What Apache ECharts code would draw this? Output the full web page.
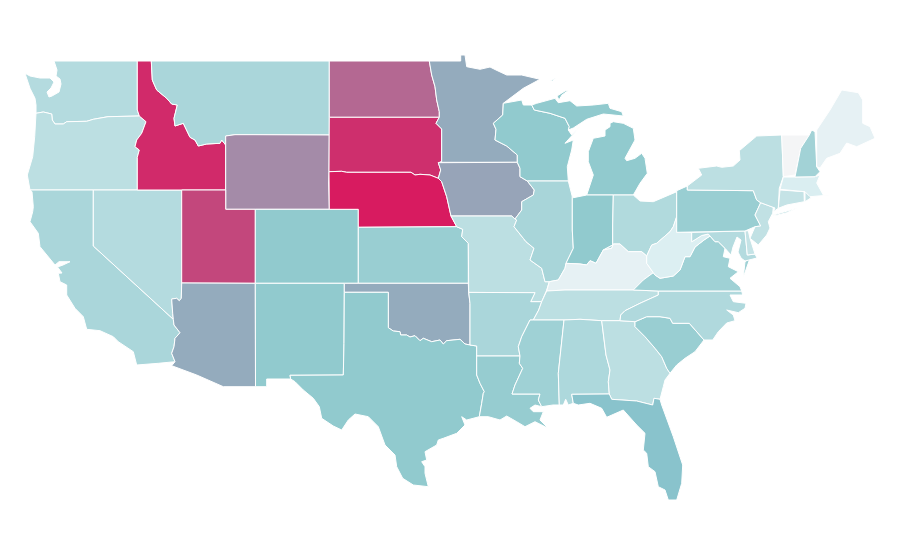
<!DOCTYPE html>
<html>
<head>
<meta charset="utf-8">
<style>html,body{margin:0;padding:0;background:#fff}#c{width:900px;height:560px}</style>
<script src="https://cdn.jsdelivr.net/npm/echarts@6/dist/echarts.min.js"></script>
</head>
<body>
<div id="c"></div>
<script>
// Values (relative 0-100 scale)
const stateNames = ['Washington','Oregon','California','Nevada','Idaho','Montana','Wyoming','Utah','Arizona','Colorado','New Mexico','North Dakota','South Dakota','Nebraska','Kansas','Oklahoma','Texas','Minnesota','Iowa','Missouri','Arkansas','Louisiana','Wisconsin','Illinois','Michigan','Indiana','Ohio','Kentucky','Tennessee','Mississippi','Alabama','Georgia','Florida','South Carolina','North Carolina','Virginia','West Virginia','Maryland','Delaware','Pennsylvania','New Jersey','New York','Connecticut','Rhode Island','Massachusetts','Vermont','New Hampshire','Maine'];
const stateValues = [28,24.5,32,28,95.5,32,66.7,87,57,40,40,77,94,100,37.5,57,40,57,59,24.5,32,38.5,40,32.5,40,40,29.5,6,24.5,35.5,31,24.5,50,37.5,30,35.5,10,28,20,37.5,22,24.5,20,20,11,0,34.5,6];
const colorStops = ['#f4f5f6','#dceff2','#c5e3e6','#b0d9dd','#91cace','#89c3cc','#99a1b6','#a980a1','#b85e8b','#c83d76','#d81b60'];

// State outlines for the custom map (map units: x, y downward)
const outlines = {
'Washington':['54,61 137.3,61 137.3,110 139.3,116 108,116.7 93.3,119.3 86.7,121.3 66.7,121.7 63.3,124 55,124 52.3,120 51.7,114 43.3,112 36,113.3 36,105 35,98.3 30,88.3 25,73.3 30,76 40,78 50,78 54,82 51,88 47,92 49,97 52,96 59,92 61,84 60,79 56,76 57,70'],
'Oregon':['36,113.3 43.3,112 51.7,114 52.3,120 55,124 63.3,124 66.7,121.7 86.7,121.3 93.3,119.3 108,116.7 139.3,116 146,121.7 141.7,133.3 136.7,140 135,146.7 139.3,150 137.3,157.3 137.3,190 30,190 27.3,175 32.7,156.7 34.7,136.7'],
'California':['30,190 93.3,190 93.3,246 173.3,319.3 174,325 180,332.7 175,338.3 174,346.7 171.7,353.3 175,361.7 158.3,363.3 136.7,365 133.3,351.7 118.3,341.7 113.3,336.7 100,330.7 86.7,329.3 83.3,316.7 75,308.3 66.7,295 66.7,285 60,281.7 58.3,273.3 62,273 57.5,267 63,265 70,261.7 59,261.7 55,265 40,246.7 38.3,233.3 30,221.7 32.7,211.7 33.3,206.7 32,191.7'],
'Nevada':['93.3,190 181.7,190 181.7,283 181.3,298.3 179.3,300.7 176.7,298.3 171.7,299 172.7,313.3 173.3,319.3 93.3,246'],
'Idaho':['137.3,61 151.3,61 152.3,80 156.7,90 166.7,98.3 171.7,104 177.3,105 174,118.3 175,126 183.3,123.3 190,137.3 195,140 198.3,146 206.7,144 220,143.3 221.7,140 225.7,145 225.7,190 137.3,190 137.3,157.3 139.3,150 135,146.7 136.7,140 141.7,133.3 146,121.7 139.3,116 137.3,110'],
'Montana':['151.3,61 329.3,61 329.3,135 253,134.7 235,134.7 225.7,136 225.7,145 221.7,140 220,143.3 206.7,144 198.3,146 195,140 190,137.3 183.3,123.3 175,126 174,118.3 177.3,105 171.7,104 166.7,98.3 156.7,90 152.3,80'],
'Wyoming':['225.7,136 235,134.7 253,134.7 329.3,135 329,171.7 328.7,183 329.3,209.3 255.3,209.3 225.7,209.3'],
'Utah':['181.7,190 225.7,190 225.7,209.3 255.3,209.3 255.3,283.3 181.7,283'],
'Arizona':['181.7,283 255.3,283.3 255.5,386.7 223.3,386.7 196.7,375 171.7,365.7 175,361.7 171.7,353.3 174,346.7 175,338.3 180,332.7 174,325 173.3,319.3 172.7,313.3 171.7,299 176.7,298.3 179.3,300.7 181.3,298.3'],
'Colorado':['255.3,209.3 358.3,209.3 358.3,227.3 358.3,283.3 255.3,283.3'],
'New Mexico':['255.3,283.3 344.3,283.3 344.3,292.3 344,343.3 343.3,375 290,375.3 290.7,379 266.7,379 266.7,386.7 255.5,386.7'],
'North Dakota':['329.3,61 429.3,61 431.7,75 435,86.7 436.7,100 439.3,111.7 439.3,117.3 329.3,117.3'],
'South Dakota':['329.3,117.3 439.3,117.3 436,123.3 441.7,129 441.7,161.7 438.3,162.7 440.7,170 438.3,178.3 430,175 420,174.3 415,175 411,172.3 346.7,172.3 341.7,171.3 329,171.7'],
'Nebraska':['329,171.7 341.7,171.3 346.7,172.3 411,172.3 415,175 420,174.3 430,175 438.3,178.3 441.7,181.7 446.7,196.7 451,216 456.7,226.7 358.3,227.3 358.3,209.3 329.3,209.3'],
'Kansas':['358.3,227.3 456.7,226.7 462.7,229.3 461.7,236.7 468.3,243.3 468.3,283.3 358.3,283.3'],
'Oklahoma':['344.3,283.3 468.3,283.3 468.7,292.4 470,303.3 470,345 465,344 460,339.3 446.7,340.7 443.3,344 440,340 431.7,341.7 423.3,338.3 420,340.7 415,335.7 410,337 406.7,335 400.7,335 400,331.7 393.3,331 388.3,327.7 388.3,292.3 344.3,292.3'],
'Texas':['344.3,292.3 388.3,292.3 388.3,327.7 393.3,331 400,331.7 400.7,335 406.7,335 410,337 415,335.7 420,340.7 423.3,338.3 431.7,341.7 440,340 443.3,344 446.7,340.7 460,339.3 465,344 470,345 476.7,346 476.7,356 476.7,375 480,383.3 484.3,391.7 483.3,393.3 481.7,403.3 479.3,416.7 466.7,420 461.7,416.7 465,425 456.7,433.3 443.3,438.3 438.3,440 436.7,445 425,451.7 426.7,460 421.7,461.7 425,466.7 425,473.3 428.3,486.7 413.3,485 402.7,478.3 396.7,466.7 395,455 385,445 378.3,426.7 368.3,416.7 355,414 348.3,420 341.7,430 333.3,426 321.7,418.3 319.3,406.7 313.3,398.3 303.3,390 295,381.7 290.7,379 290,375.3 343.3,375 344,343.3'],
'Minnesota':['429.3,61 460.7,61 460.7,55 465,55 466.7,66.7 480,69.3 490,67 496,70 506.7,75 521.7,75 540,79.3 523.3,88.3 503.3,103.3 502.7,115 493.3,123.3 496,129.3 495,140 506.7,146 517.3,155 517.3,162.3 440,162.3 441.7,161.7 441.7,129 436,123.3 439.3,117.3 439.3,111.7 436.7,100 435,86.7 431.7,75'],
'Iowa':['438.3,162.7 517.3,162.3 520,168.3 520,176.7 527.3,181 534.3,190 533.3,195 521.7,201.7 521.7,210 515,219 511.7,216 451,216 446.7,196.7 441.7,181.7 438.3,178.3 440.7,170'],
'Missouri':['451,216 511.7,216 515,219 516.7,220 514,226.7 523.3,238.3 526,241.7 534,248.3 530,260 541.7,268.3 545,281.7 549.3,281.7 546.7,290 541.7,301.7 530.7,301.7 535,292.7 468.7,292.4 468.3,243.3 461.7,236.7 462.7,229.3 456.7,226.7'],
'Arkansas':['468.7,292.4 535,292.7 530.7,301.7 541.7,301.7 538.7,310 533.3,320 530,320 521.7,336.7 518.3,346.7 520,356 476.7,356 476.7,346 470,345 470,303.3'],
'Louisiana':['476.7,356 520,356 519.3,363.3 522.7,368.3 515,385 512,394 530,394 540,394 538.3,400 541.7,406.7 535,405 530,408.3 533.3,411.7 543.3,411.7 540,420 548.3,428.3 535,421.7 525,426.7 516.7,421.7 506.7,416 500,420 488.3,416.7 479.3,416.7 481.7,403.3 483.3,393.3 484.3,391.7 480,383.3 476.7,375'],
'Wisconsin':['503.3,103.3 521.7,100 523.3,105 531.7,105 534.3,110 550,113.3 565,118.3 569.3,126.7 568.3,130 571.7,135 580,126.7 565,143.3 573.3,140 571.7,150 567.3,166.7 568.3,181 527.3,181 520,176.7 520,168.3 517.3,162.3 517.3,155 506.7,146 495,140 496,129.3 493.3,123.3 502.7,115'],
'Illinois':['527.3,181 568.3,181 572.3,196.7 572.3,230 573.3,248.3 566,263.3 565,268.3 558.3,280 549.3,281.7 545,281.7 541.7,268.3 530,260 534,248.3 526,241.7 523.3,238.3 514,226.7 516.7,220 515,219 521.7,210 521.7,201.7 533.3,195 534.3,190'],
'Michigan':['534.3,110 531.7,105 536.7,103.3 555,98.3 558.3,102.7 570,100.7 576.7,106 593.3,105 608.3,103.3 610,108.3 621.7,111.7 623.3,116 603.3,114 586.7,119.3 573.3,128 568.3,130 569.3,126.7 565,118.3 550,113.3','610,123.3 613.3,121.7 623.3,123.3 633.3,128.3 635,140 625,158.3 626.7,160.7 635,158.3 641.7,153.3 645,158.3 647.3,173.3 640,183.3 633.3,195 613.3,195 586.7,195 593.3,175 588.3,161.7 588.3,151.7 593.3,138.3 605,136 605,130 610,126.7','557,96 565,91 569,90 562,95 559,100','550,81 555.7,78.3 553,81'],
'Indiana':['573.3,197.7 586.7,195 613.3,195 612.7,225 612.7,245 603.3,250 596,263.3 590,260.7 586.7,265 580,264 566,263.3 573.3,248.3 572.3,230 572.3,196.7'],
'Ohio':['613.3,195 633.3,195 640,201 653.3,201.7 676.7,191.7 676.7,216.7 673.3,226.7 670,231.7 656.7,243.3 651.7,245 646.7,256 641.7,251.7 628.3,251.7 620,244 613.3,244 611.7,248.3 603.3,250 612.7,245 612.7,225'],
'Kentucky':['546.7,291 549.3,281.7 558.3,280 565,268.3 566,263.3 580,264 586.7,265 590,260.7 596,263.3 603.3,250 611.7,248.3 613.3,244 620,244 628.3,251.7 641.7,251.7 646.7,256 646.7,263.3 653.3,272.7 643.3,280 633.3,290 565,290'],
'Tennessee':['546.7,291 565,290 633.3,290 658.3,291 658.3,295 640,303.3 625,310.7 620.7,315 620,320.7 601.7,320.7 580,319.3 564,320 533.3,320 538.7,310 541.7,301.7'],
'Mississippi':['533.3,320 564,320 558.3,373.3 559.3,405 553,405 541.7,406.7 538.3,400 540,394 512,394 515,385 522.7,368.3 519.3,363.3 520,356 518.3,346.7 521.7,336.7 530,320'],
'Alabama':['564,320 580,319.3 601.7,320.7 606,355 610,370 608.3,381.7 609.3,394 571.7,394.3 573.3,403.3 568.3,405 565.7,399.3 563.3,405 559.3,405 558.3,373.3'],
'Georgia':['601.7,320.7 620,320.7 635,321.7 635,326.7 645,336.7 655,348.3 661.7,356.7 666.7,368.3 670,373.3 665,380 663.3,386.7 660,399.3 654,398.3 652.7,405 636.7,401 611.7,399.3 609.3,394 608.3,381.7 610,370 606,355'],
'Florida':['571.7,394.3 609.3,394 611.7,399.3 636.7,401 652.7,405 654,398.3 660,399.3 661.7,405 673.3,436.7 682.7,465 681.7,483.3 676.7,500 668.3,500 665,490 658.3,486.7 655,471.7 648.3,466.7 646.7,453.3 643.3,450 645,433.3 636.7,425 623.3,410 606.7,417.3 601.7,408.3 590,403.3 578.3,405 573.3,403.3'],
'South Carolina':['635,321.7 646.7,316.7 660,316.7 670,318.3 672.7,323.3 689.3,323.3 704,340 695,351.7 685,358.3 676.7,365 670,373.3 666.7,368.3 661.7,356.7 655,348.3 645,336.7 635,326.7'],
'North Carolina':['658.3,291 741.7,291 742.7,295 730,295 733.3,301.7 746,303.3 745,308.3 738.3,312.7 726.7,310 733.3,315 735,320.7 726.7,323 718.3,331.7 712.7,340 704,340 689.3,323.3 672.7,323.3 670,318.3 660,316.7 646.7,316.7 635,321.7 620,320.7 620.7,315 625,310.7 640,303.3 658.3,295'],
'Virginia':['633.3,290 643.3,280 653.3,272.7 655,275 660,278.3 673.3,276 680,270 685,256.7 690,256.7 695,247 704,240 710,236 715,241.7 718.3,241.7 725,248.3 723.3,256.7 730,258.3 728.3,266.7 738.3,271.7 730,278.3 740,286.7 741.7,291 658.3,291','745,261.7 750,258.3 743.3,277.3'],
'West Virginia':['676.7,216.7 676.7,232.3 691.7,232.3 691.7,241.7 693,241 701.7,235.5 708.3,234 710,236 704,240 695,247 690,256.7 685,256.7 680,270 673.3,276 660,278.3 655,275 653.3,272.7 646.7,263.3 646.7,256 651.7,245 656.7,243.3 670,231.7 673.3,226.7'],
'Maryland':['691.7,232.3 745,231 747.3,255 755,254 757,258 745,261 741,258 738,252 741,240 737,237 733,247 731,255 725,248.3 718.3,241.7 715,241.7 710,236 708.3,234 701.7,235.5 693,241 691.7,241.7'],
'Delaware':['745,231 748.3,230.7 750,238.3 755,254 747.3,255'],
'Pennsylvania':['676.7,190.7 687.3,186 687.3,190 753.3,190.7 756.7,200 760.7,202.7 755,215 760.7,226 755,226.7 745,231 676.7,232.3'],
'New Jersey':['760.7,202.7 773.3,207.3 772.7,213.3 768.3,221.7 770,228 766.7,235 758.3,245 750,238.3 755,226.7 760.7,226 755,215'],
'New York':['687.3,186 701.7,175 698.3,168.3 716.7,166 721.7,167.3 733.3,166 740,160 739.3,150.7 756.7,136 781.7,135 782.7,160 783.3,176.7 779.3,188.3 778.3,208.3 773.3,211.7 775,208 760.7,202.7 756.7,200 753.3,190.7 687.3,190','773.3,215 796.7,208.3 786.7,212.7 775,215.7'],
'Connecticut':['780,190 804,191.7 804.3,201.7 786.7,205 778.3,208.3'],
'Rhode Island':['805,191 810,191 810.7,198 805,201.7'],
'Massachusetts':['783.3,177 795,177 815,176.7 820,175 816.7,183 823.3,195 830,195 810,196.7 805,191.7 780,189.3'],
'Vermont':['781.7,135 809.3,135 800.7,148.3 795,175 783.3,176.7 782.7,160'],
'New Hampshire':['809.3,135 811.7,130 815,131.7 816.7,166.7 820,171.7 815,176.7 795,177 800.7,148.3'],
'Maine':['816.7,130 830,110 841.7,90 858.3,92.7 862.7,100 862.7,123.3 870,126.7 875,138.3 856.7,146.7 846.7,143 840,153.3 826.7,158.3 820,168 816.7,166.7']
};

const parseRing = s => {
  const r = s.split(' ').map(p => { const a = p.split(',').map(Number); return [a[0], -a[1]]; });
  r.push(r[0].slice());
  return r;
};
const geoJson = {
  type: 'FeatureCollection',
  features: stateNames.map(name => ({
    type: 'Feature',
    properties: { name },
    geometry: { type: 'MultiPolygon', coordinates: outlines[name].map(s => [parseRing(s)]) }
  }))
};
echarts.registerMap('usa', geoJson);

const chart = echarts.init(document.getElementById('c'), null, { renderer: 'canvas' });
chart.setOption({
  animation: false,
  backgroundColor: '#ffffff',
  tooltip: { show: false },
  visualMap: {
    show: false, type: 'continuous', min: 0, max: 100, seriesIndex: 0,
    inRange: { color: colorStops }
  },
  series: [{
    type: 'map',
    map: 'usa',
    roam: false,
    silent: true,
    aspectScale: 1,
    boundingCoords: [[0, 0], [900, -560]],
    left: 0, top: 0, width: 900, height: 560,
    label: { show: false },
    emphasis: { disabled: true },
    itemStyle: { borderColor: '#ffffff', borderWidth: 1, areaColor: '#eeeeee' },
    data: stateNames.map((name, i) => ({ name, value: stateValues[i] }))
  }]
});
</script>
</body>
</html>
